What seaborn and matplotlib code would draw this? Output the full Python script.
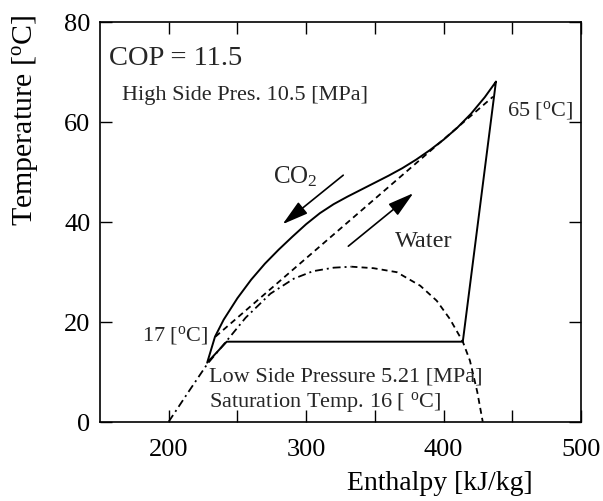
import matplotlib
matplotlib.use("Agg")
import matplotlib.pyplot as plt
import seaborn as sns

# CO2 cycle on the pressure-enthalpy plane: gas cooler, expansion, evaporator, compression
cycle_h = [438.1, 430, 420, 410, 400, 390, 380, 370, 360, 350, 340, 330, 320, 310, 300,
           290, 280, 270, 260, 250, 240, 233.7, 228.0, 242.2, 414.0, 438.1]
cycle_T = [68.0, 64.9, 61.6, 58.8, 56.4, 54.3, 52.4, 50.7, 49.2, 47.8, 46.4, 45.0, 43.5, 41.7, 39.5,
           37.0, 34.4, 31.6, 28.4, 24.7, 20.4, 17.0, 11.8, 16.0, 16.0, 68.0]

# Water being heated in the gas cooler (17 -> 65 C)
water_h = [234.0, 436.0]
water_T = [17.0, 65.0]

# Saturation dome of CO2
liquid_h = [200, 214, 228, 242, 256, 274, 291, 305, 320, 333]
liquid_T = [0.0, 5.8, 11.5, 16.1, 20.8, 25.6, 28.6, 30.1, 30.8, 31.0]
vapor_h = [333, 349, 366, 383, 395, 404.7, 414.0, 419.2, 424.5, 428.5]
vapor_T = [31.0, 30.7, 29.9, 27.2, 24.2, 20.5, 16.0, 12.2, 6.0, 0.0]

x_ticks = [200, 300, 400, 500]
x_minor = [250, 350, 450]
y_ticks = [0, 20, 40, 60, 80]

sns.set_theme(style="ticks")
plt.rcParams["font.family"] = ["Liberation Serif", "DejaVu Serif"]
plt.rcParams["mathtext.fontset"] = "custom"
plt.rcParams["mathtext.rm"] = "Liberation Serif"
plt.rcParams["mathtext.it"] = "Liberation Serif:italic"

fig = plt.figure(figsize=(6.03, 5.02), dpi=100)
ax = fig.add_axes([0.1658, 0.158, 0.7977, 0.7968])

lw = 1.4
sns.lineplot(x=cycle_h, y=cycle_T, sort=False, estimator=None, color="black", lw=lw, ax=ax)
sns.lineplot(x=water_h, y=water_T, sort=False, estimator=None, color="black", lw=1.3,
             linestyle=(0, (3.3, 2.3)), ax=ax)
sns.lineplot(x=liquid_h, y=liquid_T, sort=False, estimator=None, color="black", lw=1.3,
             linestyle=(0, (4.4, 2.2, 1.1, 2.2)), ax=ax)
sns.lineplot(x=vapor_h, y=vapor_T, sort=False, estimator=None, color="black", lw=1.3,
             linestyle=(0, (3.3, 2.3)), ax=ax)

# Flow direction arrows
arrow_kw = dict(arrowstyle="-|>,head_length=1.6,head_width=0.45", color="black",
                lw=1.2, mutation_scale=10, shrinkA=0, shrinkB=0)
ax.annotate("", xy=(282.9, 39.5), xytext=(327.0, 49.3), arrowprops=arrow_kw)
ax.annotate("", xy=(378.0, 45.7), xytext=(330.7, 35.1), arrowprops=arrow_kw)

deg = r"$^{\rm o}$"
ax.text(156.5, 71.5, "COP = 11.5", fontsize=20.5, va="baseline", ha="left")
ax.text(165.8, 64.5, "High Side Pres. 10.5 [MPa]", fontsize=16, va="baseline", ha="left")
ax.text(446.2, 61.5, "65 [" + deg + "C]", fontsize=16, va="baseline", ha="left")
ax.text(228.5, 16.5, "17 [" + deg + "C]", fontsize=16, va="baseline", ha="right")
ax.text(229.3, 8.2, "Low Side Pressure 5.21 [MPa]", fontsize=16, va="baseline", ha="left")
ax.text(229.3, 3.1, "Saturation Temp. 16 [ " + deg + "C]", fontsize=16, va="baseline", ha="left")
ax.text(275.9, 47.9, r"CO$_2$", fontsize=18, va="baseline", ha="left")
ax.text(364.7, 35.2, "Water", fontsize=17.5, va="baseline", ha="left")

ax.set_xlim(150, 500)
ax.set_ylim(0, 80)
ax.set_xticks(x_ticks)
ax.set_xticks(x_minor, minor=True)
ax.set_yticks(y_ticks)
ax.tick_params(which="both", direction="in", top=True, right=True, length=8.5,
               width=1.0, color="black", labelsize=19, labelcolor="black")
ax.tick_params(axis="x", which="both", pad=11.5)
ax.tick_params(axis="y", which="both", pad=7)
for s in ax.spines.values():
    s.set_visible(True)
    s.set_color("black")
    s.set_linewidth(1.2)
ax.set_facecolor("white")
ax.grid(False)

ax.set_xlabel("Enthalpy [kJ/kg]", fontsize=20, color="black")
ax.set_ylabel("Temperature [" + deg + "C]", fontsize=21.5, color="black")
ax.xaxis.set_label_coords(0.706, -0.12)
ax.yaxis.set_label_coords(-0.125, 0.755)

fig.savefig("out.png", dpi=100, facecolor="white")
